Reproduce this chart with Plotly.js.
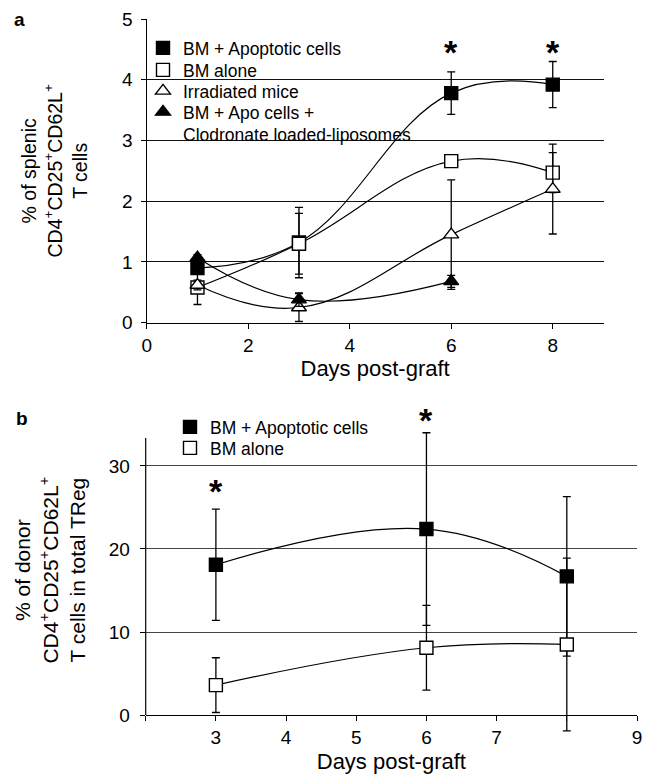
<!DOCTYPE html>
<html>
<head>
<meta charset="utf-8">
<script src="https://cdn.plot.ly/plotly-3.0.1.min.js"></script>
<style>html,body{margin:0;padding:0;background:#fff;}#chart{width:652px;height:779px;}</style>
</head>
<body>
<div id="chart"></div>
<script>
// ---- Panel a data ----
const daysA = [1, 3, 6, 8];
const daysClod = [1, 3, 6];
const apoA = [0.9, 1.32, 3.78, 3.92];
const apoAErr = [0.05, 0.58, 0.35, 0.38];
const aloneA = [0.58, 1.3, 2.66, 2.47];
const aloneAErr = [0.28, 0.5, 0.07, 0.33];
const irrA = [0.62, 0.25, 1.45, 2.2];
const irrAErr = [0.08, 0.23, 0.9, 0.74];
const clodA = [1.07, 0.38, 0.68];
const clodAErr = [0.05, 0.11, 0.1];
const starDaysA = [6, 8];
const starYA = [4.52, 4.52];

// ---- Panel b data ----
const daysB = [3, 6, 8];
const apoB = [18.1, 22.4, 16.7];
const apoBErr = [6.7, 11.6, 9.6];
const aloneB = [3.6, 8.1, 8.5];
const aloneBErr = [3.3, 5.1, 10.4];
const starDaysB = [3, 6];
const starYB = [27.5, 36.0];

// ---- labels / ticks ----
const namesA = ['BM + Apoptotic cells', 'BM alone', 'Irradiated mice', 'BM + Apo cells +<br>Clodronate loaded-liposomes'];
const namesB = ['BM + Apoptotic cells', 'BM alone'];
const tickValsA = [0, 2, 4, 6, 8];
const tickValsYA = [0, 1, 2, 3, 4, 5];
const tickValsB = [2, 3, 4, 5, 6, 7, 8, 9];
const tickTextB = ['', '3', '4', '5', '6', '7', '', '9'];
const tickValsYB = [0, 10, 20, 30];
const rangeYB = [-2.6, 37.5];
const axisTopYB = 33.37;

const FONT = 'Liberation Sans, Arial, sans-serif';

function lineTrace(x, y, xa, ya) {
  return {x: x, y: y, xaxis: xa, yaxis: ya, mode: 'lines', showlegend: false, hoverinfo: 'skip',
    line: {color: '#000', width: 1.2, shape: 'spline', smoothing: 1.2}};
}
function markTrace(x, y, err, name, symbol, filled, xa, ya, legend) {
  return {x: x, y: y, xaxis: xa, yaxis: ya, mode: 'markers', name: name, legend: legend, cliponaxis: false,
    marker: {symbol: symbol, size: 13,
             color: filled ? '#000' : '#fff', line: {color: '#000', width: 1.4}},
    error_y: {type: 'data', array: err, visible: true, color: '#000', thickness: 1.3, width: 4}};
}

const traces = [
  lineTrace(daysA, apoA, 'x', 'y'),
  lineTrace(daysA, aloneA, 'x', 'y'),
  lineTrace(daysA, irrA, 'x', 'y'),
  lineTrace(daysClod, clodA, 'x', 'y'),
  markTrace(daysA, apoA, apoAErr, namesA[0], 'square', true, 'x', 'y', 'legend'),
  markTrace(daysA, aloneA, aloneAErr, namesA[1], 'square', false, 'x', 'y', 'legend2'),
  markTrace(daysA, irrA, irrAErr, namesA[2], 'triangle-up', false, 'x', 'y', 'legend3'),
  markTrace(daysClod, clodA, clodAErr, namesA[3], 'triangle-up', true, 'x', 'y', 'legend4'),
  lineTrace(daysB, apoB, 'x2', 'y2'),
  lineTrace(daysB, aloneB, 'x2', 'y2'),
  markTrace(daysB, apoB, apoBErr, namesB[0], 'square', true, 'x2', 'y2', 'legend5'),
  markTrace(daysB, aloneB, aloneBErr, namesB[1], 'square', false, 'x2', 'y2', 'legend6')
];

const annotations = [];
starDaysA.forEach((d, i) => annotations.push({x: d, y: starYA[i], xref: 'x', yref: 'y', text: '<b>*</b>', showarrow: false,
  font: {family: FONT, size: 34, color: '#000'}, yshift: -4}));
starDaysB.forEach((d, i) => annotations.push({x: d, y: starYB[i], xref: 'x2', yref: 'y2', text: '<b>*</b>', showarrow: false,
  font: {family: FONT, size: 34, color: '#000'}, yshift: -4}));
annotations.push({x: 12 / 652, y: 1 - 19 / 779, xref: 'paper', yref: 'paper', xanchor: 'left', yanchor: 'middle',
  text: '<b>a</b>', showarrow: false, font: {family: FONT, size: 19, color: '#000'}});
annotations.push({x: 14 / 652, y: 1 - 418 / 779, xref: 'paper', yref: 'paper', xanchor: 'left', yanchor: 'middle',
  text: '<b>b</b>', showarrow: false, font: {family: FONT, size: 19, color: '#000'}});

const axisCommon = {showline: true, linecolor: '#000', linewidth: 1.2, ticks: 'outside', ticklen: 5, tickwidth: 1,
  tickcolor: '#000', tickfont: {family: FONT, size: 19, color: '#000'}, zeroline: false, automargin: false};

function legendAt(xPx, topPx) {
  return {x: xPx / 652, y: 1 - topPx / 779, xanchor: 'left', yanchor: 'top', bgcolor: 'rgba(0,0,0,0)',
    font: {family: FONT, size: 17.5, color: '#000'}, valign: 'top', tracegroupgap: 0, itemclick: false};
}

const layout = {
  width: 652, height: 779,
  margin: {l: 0, r: 0, t: 0, b: 0},
  paper_bgcolor: '#fff', plot_bgcolor: '#fff',
  font: {family: FONT, color: '#000'},
  showlegend: true,
  xaxis: Object.assign({}, axisCommon, {domain: [146.7 / 652, 603.5 / 652], anchor: 'y', range: [0, 9],
    tickvals: tickValsA, showgrid: false,
    title: {text: 'Days post-graft', font: {family: FONT, size: 22, color: '#000'}, standoff: 0}}),
  yaxis: Object.assign({}, axisCommon, {domain: [1 - 322.7 / 779, 1 - 19 / 779], anchor: 'x', range: [0, 5],
    tickvals: tickValsYA, showgrid: true, gridcolor: '#111', gridwidth: 1, ticklabelstandoff: 4,
    title: {text: '% of splenic<br>CD4<sup>+</sup>CD25<sup>+</sup>CD62L<sup>+</sup><br>T cells', font: {family: FONT, size: 19.5, color: '#000'}, standoff: 29}}),
  xaxis2: Object.assign({}, axisCommon, {domain: [145.7 / 652, 637 / 652], anchor: 'free', position: 1 - 715 / 779,
    range: [2, 9], tickvals: tickValsB, ticktext: tickTextB, showgrid: false,
    title: {text: 'Days post-graft', font: {family: FONT, size: 22, color: '#000'}, standoff: 6}}),
  yaxis2: Object.assign({}, axisCommon, {domain: [1 - 736.6 / 779, 1 - 403.7 / 779], anchor: 'x2', range: rangeYB,
    showline: false, tickvals: tickValsYB, showgrid: true, gridcolor: '#444', gridwidth: 1, ticklabelstandoff: 6,
    title: {text: '% of donor<br>CD4<sup>+</sup>CD25<sup>+</sup>CD62L<sup>+</sup><br>T cells in total TReg', font: {family: FONT, size: 21, color: '#000'}, standoff: 17}}),
  legend: legendAt(143, 30),
  legend2: legendAt(143, 52),
  legend3: legendAt(143, 73),
  legend4: legendAt(143, 94),
  legend5: legendAt(170, 409),
  legend6: legendAt(170, 430),
  shapes: [
    {type: 'line', xref: 'x2 domain', x0: 0, x1: 0, yref: 'y2', y0: 0, y1: axisTopYB, line: {color: '#000', width: 1.2}}
  ],
  annotations: annotations
};

Plotly.newPlot('chart', traces, layout, {staticPlot: true, displayModeBar: false});
</script>
</body>
</html>
